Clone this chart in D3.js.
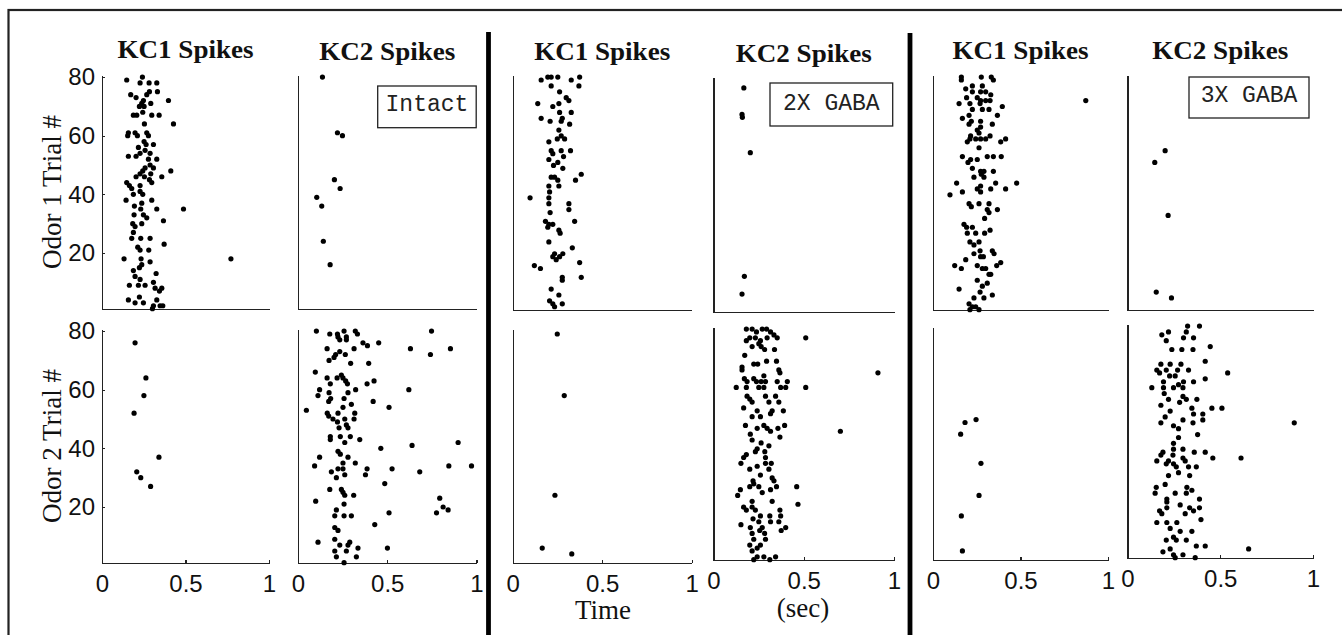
<!DOCTYPE html>
<html>
<head>
  <meta charset="utf-8">
  <title>KC Spikes</title>
  <script type="text/javascript" src="https://cdn.jsdelivr.net/npm/d3@7"></script>
  <style>

    body {
      margin: 0;
      background: #fff;
    }

    svg {
      display: block;
    }

    .axis path,
    .axis line {
      stroke: #222;
      stroke-width: 1.3;
      shape-rendering: crispEdges;
    }

    .axis text {
      font-family: "Liberation Sans", Arial, sans-serif;
      font-size: 24px;
      fill: #111;
    }

    text.title {
      font-family: "Liberation Serif", "Times New Roman", serif;
      font-weight: bold;
      font-size: 25px;
      fill: #111;
    }

    text.label {
      font-family: "Liberation Serif", "Times New Roman", serif;
      font-size: 27px;
      fill: #111;
    }

    text.tag {
      font-family: "Liberation Mono", "Courier New", monospace;
      font-size: 23px;
      fill: #222;
    }

    rect.tagbox {
      fill: none;
      stroke: #222;
      stroke-width: 1.3;
    }

    circle.spike {
      fill: #000;
    }

  </style>
</head>

<body>

<script>

  // ---- data: [time (sec), trial #] ----
  var titles = ["KC1 Spikes", "KC2 Spikes"];
  var conditions = ["Intact", "2X GABA", "3X GABA"];
  var rowLabels = ["Odor 1 Trial #", "Odor 2 Trial #"];
  var xTicks = [0, 0.5, 1];
  var yTicks = [20, 40, 60, 80];

  var intactKC1Odor1 = [[.148,79],[.242,80],[.228,78],[.282,78],[.328,78],[.172,74],[.284,75],[.332,75],[.268,74],[.204,73],[.248,72],[.398,72],[.238,71],[.292,71],[.224,70],[.252,70],[.208,67],[.244,68],[.298,67],[.342,67],[.188,67],[.428,64],[.254,64],[.158,61],[.154,60],[.198,61],[.212,60],[.268,61],[.278,60],[.252,58],[.264,57],[.308,57],[.218,56],[.258,55],[.288,54],[.158,53],[.204,53],[.228,54],[.278,52],[.328,52],[.288,50],[.258,49],[.308,49],[.244,48],[.412,48],[.204,46],[.228,47],[.254,46],[.292,47],[.284,45],[.358,46],[.148,44],[.164,43],[.228,43],[.298,44],[.178,42],[.188,40],[.228,41],[.244,40],[.144,38],[.194,36],[.238,37],[.232,35],[.298,38],[.328,35],[.488,35],[.192,33],[.248,33],[.268,32],[.184,30],[.198,29],[.238,30],[.368,31],[.188,27],[.178,25],[.232,25],[.288,25],[.372,23],[.214,22],[.228,21],[.280,21],[.132,18],[.234,18],[.288,17],[.238,16],[.224,15],[.188,14],[.324,13],[.198,12],[.228,11],[.308,10],[.164,9],[.218,9],[.258,9],[.318,8],[.358,8],[.344,7],[.158,4],[.224,5],[.198,3],[.248,3],[.328,4],[.308,2],[.348,2],[.364,2],[.302,1],[.772,18]];
  var intactKC1Odor2 = [[.198,76],[.263,64],[.251,58],[.192,52],[.341,37],[.208,32],[.232,30],[.291,27]];
  var intactKC2Odor1 = [[.137,80],[.221,61],[.249,60],[.204,45],[.236,42],[.105,39],[.133,36],[.142,24],[.180,16]];
  var intactKC2Odor2 = [[.103,80],[.258,80],[.321,80],[.748,80],[.178,79],[.221,79],[.271,78],[.333,79],[.224,78],[.271,77],[.234,77],[.364,76],[.389,75],[.452,76],[.163,74],[.314,74],[.630,74],[.854,74],[.211,72],[.234,73],[.265,72],[.202,71],[.742,72],[.174,70],[.295,69],[.396,69],[.097,66],[.243,65],[.252,64],[.163,64],[.219,64],[.267,63],[.426,63],[.181,62],[.277,62],[.387,62],[.121,60],[.174,59],[.280,59],[.323,60],[.621,60],[.112,58],[.183,57],[.172,56],[.258,57],[.299,55],[.421,56],[.047,53],[.252,54],[.510,54],[.164,52],[.172,51],[.224,52],[.318,52],[.196,50],[.262,50],[.314,50],[.221,49],[.271,48],[.230,47],[.280,47],[.181,44],[.181,43],[.237,44],[.293,44],[.262,42],[.346,43],[.897,42],[.464,40],[.639,41],[.224,39],[.237,38],[.121,37],[.280,37],[.321,35],[.252,35],[.093,34],[.224,33],[.252,33],[.187,32],[.262,31],[.387,33],[.527,33],[.845,34],[.972,34],[.682,32],[.215,30],[.378,31],[.486,28],[.178,26],[.243,26],[.252,25],[.262,24],[.312,24],[.794,23],[.099,22],[.258,21],[.813,20],[.841,19],[.776,18],[.215,19],[.206,17],[.258,17],[.299,17],[.510,18],[.430,14],[.206,13],[.224,12],[.206,9],[.112,8],[.234,7],[.290,8],[.280,7],[.336,6],[.501,6],[.206,5],[.271,5],[.215,3],[.327,3],[.258,1]];

  var gaba2KC1Odor1 = [[.196,80],[.215,80],[.252,80],[.159,79],[.327,79],[.374,80],[.215,77],[.370,77],[.262,75],[.299,73],[.314,72],[.140,71],[.224,70],[.258,71],[.262,68],[.327,68],[.159,66],[.209,65],[.277,66],[.271,65],[.318,64],[.258,62],[.271,60],[.249,59],[.290,59],[.202,58],[.215,55],[.224,54],[.271,55],[.284,53],[.323,55],[.202,52],[.252,51],[.228,50],[.280,49],[.215,46],[.234,46],[.252,45],[.351,45],[.383,47],[.202,43],[.258,43],[.206,41],[.097,39],[.202,39],[.202,37],[.314,37],[.314,35],[.209,34],[.183,31],[.202,30],[.224,30],[.196,29],[.258,28],[.265,27],[.346,31],[.202,24],[.234,20],[.280,20],[.333,22],[.224,19],[.243,18],[.262,19],[.121,16],[.155,15],[.374,17],[.277,12],[.277,11],[.383,12],[.215,8],[.258,6],[.206,4],[.234,2],[.277,3],[.224,3]];
  var gaba2KC1Odor2 = [[.249,79],[.288,58],[.236,24],[.165,6],[.330,4]];
  var gaba2KC2Odor1 = [[.168,77],[.158,68],[.160,67],[.204,55],[.171,13],[.158,7]];
  var gaba2KC2Odor2 = [[.182,80],[.214,80],[.238,79],[.270,80],[.294,80],[.316,79],[.335,78],[.353,77],[.201,77],[.182,76],[.232,77],[.260,76],[.297,77],[.511,77],[.214,74],[.264,74],[.283,73],[.338,73],[.251,75],[.173,71],[.223,68],[.245,68],[.294,69],[.349,69],[.158,67],[.158,66],[.362,66],[.368,65],[.171,63],[.279,64],[.223,63],[.911,65],[.186,62],[.238,62],[.264,62],[.251,60],[.288,62],[.353,62],[.372,60],[.409,62],[.400,60],[.126,60],[.182,60],[.279,60],[.511,60],[.186,57],[.201,56],[.288,57],[.344,57],[.214,55],[.307,55],[.362,55],[.167,53],[.242,52],[.387,52],[.214,50],[.260,50],[.316,51],[.325,52],[.177,47],[.242,46],[.279,47],[.297,46],[.316,45],[.357,46],[.394,47],[.368,43],[.204,44],[.703,45],[.214,42],[.264,41],[.307,40],[.242,39],[.182,37],[.167,36],[.232,38],[.284,38],[.288,36],[.152,34],[.201,32],[.242,33],[.288,34],[.320,34],[.307,32],[.260,30],[.325,29],[.335,28],[.219,28],[.223,27],[.251,26],[.270,24],[.149,25],[.134,23],[.201,26],[.316,25],[.349,26],[.461,26],[.214,21],[.325,21],[.468,20],[.167,19],[.182,18],[.214,19],[.232,18],[.219,15],[.260,16],[.312,16],[.368,18],[.372,16],[.152,13],[.204,12],[.251,14],[.270,12],[.316,14],[.362,14],[.375,11],[.400,12],[.214,10],[.256,11],[.283,10],[.223,8],[.260,6],[.288,8],[.201,6],[.242,5],[.214,4],[.242,2],[.279,2],[.312,1],[.344,2],[.223,1]];

  var gaba3KC1Odor1 = [[.162,80],[.162,79],[.276,80],[.333,80],[.345,79],[.225,77],[.187,76],[.282,77],[.225,75],[.272,75],[.301,75],[.330,74],[.192,73],[.253,73],[.272,72],[.301,72],[.326,72],[.149,71],[.211,71],[.269,71],[.396,70],[.225,69],[.282,69],[.320,69],[.368,67],[.206,67],[.168,66],[.219,65],[.206,64],[.272,65],[.272,63],[.339,64],[.253,62],[.263,61],[.215,60],[.211,59],[.244,59],[.272,59],[.301,59],[.326,60],[.196,58],[.387,58],[.415,59],[.263,56],[.168,53],[.215,52],[.200,51],[.253,52],[.310,53],[.345,53],[.390,53],[.225,49],[.272,48],[.291,48],[.345,48],[.234,46],[.276,47],[.291,46],[.135,44],[.168,41],[.272,43],[.253,42],[.272,41],[.330,42],[.358,44],[.415,42],[.478,44],[.097,40],[.206,37],[.219,36],[.263,37],[.320,37],[.310,35],[.320,34],[.368,35],[.295,32],[.177,30],[.192,29],[.225,29],[.244,27],[.196,27],[.295,27],[.326,28],[.211,24],[.234,23],[.263,24],[.269,21],[.339,21],[.234,20],[.272,19],[.288,19],[.349,20],[.187,18],[.253,16],[.282,15],[.124,16],[.162,15],[.301,15],[.364,16],[.387,17],[.320,13],[.253,11],[.330,13],[.282,9],[.310,10],[.149,8],[.269,7],[.234,5],[.291,5],[.339,6],[.206,3],[.225,2],[.244,2],[.263,1],[.211,1],[.873,72]];
  var gaba3KC1Odor2 = [[.183,48],[.246,49],[.158,44],[.274,34],[.263,23],[.162,16],[.168,4]];
  var gaba3KC2Odor1 = [[.203,55],[.147,51],[.219,33],[.155,7],[.237,5]];
  var gaba3KC2Odor2 = [[.324,80],[.388,80],[.317,78],[.185,77],[.221,78],[.209,75],[.302,76],[.356,76],[.446,73],[.239,72],[.293,72],[.353,72],[.419,68],[.180,67],[.230,67],[.288,67],[.158,65],[.209,65],[.270,65],[.329,65],[.540,64],[.173,64],[.227,63],[.257,63],[.194,61],[.302,61],[.356,61],[.419,62],[.131,59],[.194,59],[.248,59],[.275,60],[.299,59],[.198,57],[.299,56],[.221,55],[.317,55],[.374,55],[.180,53],[.281,54],[.347,52],[.455,52],[.509,52],[.230,51],[.356,50],[.406,50],[.203,49],[.299,48],[.180,47],[.353,47],[.406,48],[.899,47],[.248,46],[.275,45],[.378,43],[.275,42],[.248,40],[.248,38],[.299,38],[.360,37],[.419,37],[.191,37],[.180,36],[.245,36],[.460,35],[.612,35],[.221,34],[.299,35],[.158,34],[.209,33],[.248,33],[.311,34],[.263,32],[.329,32],[.371,32],[.221,29],[.275,30],[.335,29],[.203,26],[.155,25],[.320,25],[.347,24],[.149,23],[.257,23],[.317,23],[.212,21],[.212,20],[.388,21],[.284,19],[.173,17],[.212,18],[.335,18],[.388,18],[.185,16],[.311,16],[.356,17],[.396,14],[.158,13],[.212,13],[.266,13],[.230,11],[.284,10],[.347,10],[.248,8],[.209,7],[.263,7],[.317,7],[.371,5],[.419,5],[.230,4],[.653,4],[.191,3],[.248,2],[.299,2],[.257,1],[.365,1]];

  // ---- layout ----
  var width = 1342, height = 635;
  var yDomain = [0.9, 80.7];

  // one entry per column of panels, left to right
  var columns = [
    {x: [102, 269],     rows: [[75, 309], [329, 563]], data: [intactKC1Odor1, intactKC1Odor2], title: titles[0], titleY: 58},
    {x: [298, 476.5],   rows: [[75, 309], [329, 563]], data: [intactKC2Odor1, intactKC2Odor2], title: titles[1], titleY: 60},
    {x: [512.7, 691.7], rows: [[75, 310], [329, 563]], data: [gaba2KC1Odor1, gaba2KC1Odor2], title: titles[0], titleY: 60},
    {x: [713.5, 894],   rows: [[77, 312], [327, 560]], data: [gaba2KC2Odor1, gaba2KC2Odor2], title: titles[1], titleY: 62},
    {x: [933, 1108],    rows: [[75, 310], [327, 560]], data: [gaba3KC1Odor1, gaba3KC1Odor2], title: titles[0], titleY: 59},
    {x: [1127.5, 1313], rows: [[75, 310], [324, 558]], data: [gaba3KC2Odor1, gaba3KC2Odor2], title: titles[1], titleY: 59}
  ];

  // condition boxes, sitting in the KC2 / odor 1 panels
  var tagBoxes = [
    {x: 377.7, y: 86, w: 98.5, h: 41.7, base: 111},
    {x: 770, y: 83, w: 122.7, h: 43, base: 109.5},
    {x: 1189, y: 77, w: 120, h: 41, base: 102}
  ];

  var svg = d3.select("body").append("svg")
      .attr("width", width)
      .attr("height", height);

  svg.append("rect")
      .attr("width", width)
      .attr("height", height)
      .attr("fill", "#fff");

  // outer frame (runs off the right and bottom edges)
  svg.append("rect")
      .attr("x", 8.5)
      .attr("y", 10)
      .attr("width", 1345)
      .attr("height", 640)
      .attr("fill", "none")
      .attr("stroke", "#222")
      .attr("stroke-width", 2.2);

  // heavy separators between conditions
  [[488.5, 32], [910, 33]].forEach(function (s) {
    svg.append("line")
        .attr("x1", s[0]).attr("x2", s[0])
        .attr("y1", s[1]).attr("y2", height)
        .attr("stroke", "#000")
        .attr("stroke-width", 4.8);
  });

  columns.forEach(function (col, ci) {
    var x = d3.scaleLinear().domain([0, 1]).range(col.x);

    svg.append("text")
        .attr("class", "title")
        .attr("x", (col.x[0] + col.x[1]) / 2)
        .attr("y", col.titleY)
        .attr("text-anchor", "middle")
        .attr("textLength", 136)
        .attr("lengthAdjust", "spacingAndGlyphs")
        .text(col.title);

    col.rows.forEach(function (r, ri) {
      var y = d3.scaleLinear().domain(yDomain).range([r[1], r[0]]);

      var xAxis = d3.axisBottom(x)
          .tickValues(ri === 1 ? xTicks : [])
          .tickSizeInner(-3)
          .tickSizeOuter(0)
          .tickPadding(12)
          .tickFormat(function (d) { return String(d); });

      var yAxis = d3.axisLeft(y)
          .tickValues(ci === 0 ? yTicks : [])
          .tickSizeInner(-3)
          .tickSizeOuter(0)
          .tickPadding(7)
          .tickFormat(function (d) { return String(d); });

      svg.append("g")
          .attr("class", "x axis")
          .attr("transform", "translate(0," + r[1] + ")")
          .call(xAxis);

      svg.append("g")
          .attr("class", "y axis")
          .attr("transform", "translate(" + col.x[0] + ",0)")
          .call(yAxis);

      svg.append("g")
          .attr("class", "spikes")
          .selectAll("circle")
          .data(col.data[ri])
          .enter().append("circle")
          .attr("class", "spike")
          .attr("cx", function (d) { return x(d[0]); })
          .attr("cy", function (d) { return y(d[1]); })
          .attr("r", 2.6);

      if (ci === 0) {
        svg.append("text")
            .attr("class", "label")
            .attr("transform", "translate(61," + ((r[0] + r[1]) / 2) + ") rotate(-90)")
            .attr("text-anchor", "middle")
            .text(rowLabels[ri]);
      }
    });
  });

  // x label split across the middle condition
  svg.append("text")
      .attr("class", "label")
      .attr("x", 603)
      .attr("y", 619)
      .attr("text-anchor", "middle")
      .text("Time");

  svg.append("text")
      .attr("class", "label")
      .attr("x", 803)
      .attr("y", 617)
      .attr("text-anchor", "middle")
      .text("(sec)");

  tagBoxes.forEach(function (b, i) {
    svg.append("rect")
        .attr("class", "tagbox")
        .attr("x", b.x)
        .attr("y", b.y)
        .attr("width", b.w)
        .attr("height", b.h);

    svg.append("text")
        .attr("class", "tag")
        .attr("x", b.x + b.w / 2)
        .attr("y", b.base)
        .attr("text-anchor", "middle")
        .attr("xml:space", "preserve")
        .text(conditions[i]);
  });

</script>
</body>
</html>
